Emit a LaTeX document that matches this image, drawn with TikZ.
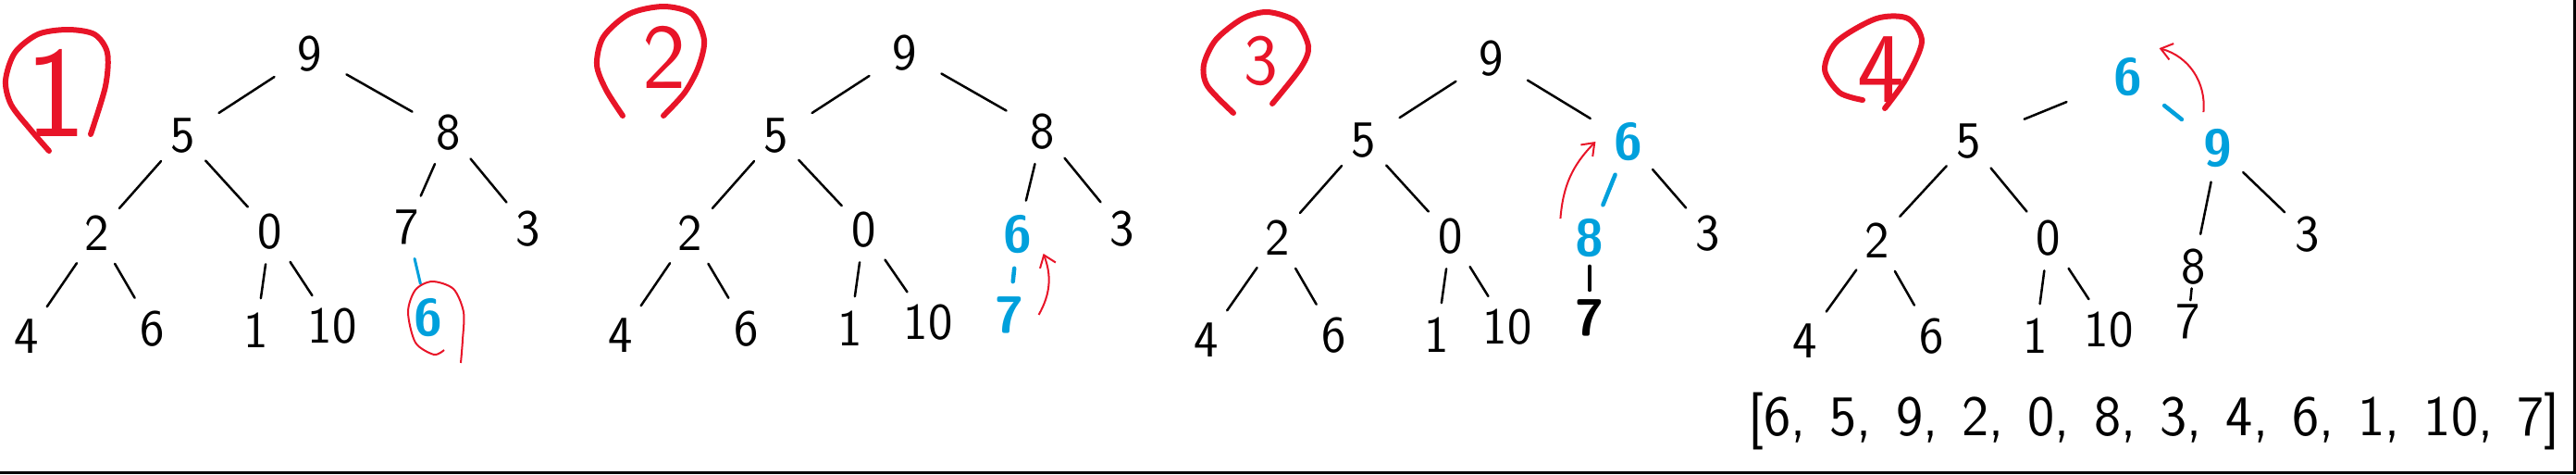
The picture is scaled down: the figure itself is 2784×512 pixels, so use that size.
\documentclass[tikz,border=0pt]{standalone}
\usetikzlibrary{arrows.meta}
\definecolor{heapblue}{RGB}{0,160,220}
\definecolor{markred}{RGB}{232,20,40}
\begin{document}
\begin{tikzpicture}[x=1pt,y=-1pt]
		\tikzstyle{every node}+=[inner sep=0pt]
		\tikzstyle{digit}=[font=\sffamily\fontsize{56}{60}\selectfont]
		\tikzstyle{hot}=[text=heapblue,font=\sffamily\bfseries\fontsize{56}{60}\selectfont]
		\tikzstyle{branch}=[black,line width=2.5pt,line cap=round,shorten <=16pt,shorten >=16pt]
		\tikzstyle{topbranch}=[branch,shorten <=30pt,shorten >=30pt]
		\tikzstyle{hotbranch}=[branch,heapblue,line width=4.5pt]
		\tikzstyle{swaparrow}=[markred,line width=2pt,-{Straight Barb[length=12pt,width=18pt]}]
		\tikzstyle{ringmark}=[markred,line width=6pt,line cap=round]
		\tikzstyle{stepno}=[text=markred]
		\useasboundingbox (0,0) rectangle (2784,512);
		\draw [black,line width=3pt] (0,510.5) -- (2782.5,510.5) -- (2782.5,0);
		\node[stepno,font=\sffamily\fontsize{140}{150}\selectfont] (s1no) at (60,100) {1};
		\draw [ringmark] plot[smooth] coordinates {(53,163) (33,140) (12,113) (6,87) (16,57) (41,37) (73,32) (102,37) (116,57) (114,93) (98,145)};
		\node[digit] (s1n9) at (335,58) {9};
		\node[digit] (s1n5) at (198,147) {5};
		\node[digit] (s1n8) at (485,143) {8};
		\node[digit] (s1n2) at (105,252) {2};
		\node[digit] (s1n0) at (292,250) {0};
		\node[digit] (s1n7) at (440,245) {7};
		\node[digit] (s1n3) at (571,247) {3};
		\node[digit] (s1n4) at (29,363) {4};
		\node[digit] (s1n6) at (165,355) {6};
		\node[digit] (s1n1) at (277,357) {1};
		\node[digit] (s1n10) at (359,352) {10};
		\node[hot] (s1new) at (463,343) {6};
		\draw [topbranch] (s1n9) -- (s1n5);
		\draw [topbranch] (s1n9) -- (s1n8);
		\draw [branch] (s1n5) -- (s1n2);
		\draw [branch] (s1n5) -- (s1n0);
		\draw [branch] (s1n8) -- (s1n7);
		\draw [branch] (s1n8) -- (s1n3);
		\draw [branch] (s1n2) -- (s1n4);
		\draw [branch] (s1n2) -- (s1n6);
		\draw [branch] (s1n0) -- (s1n1);
		\draw [branch] (s1n0) -- (s1n10);
		\draw [hotbranch,line width=3pt] (s1n7) -- (s1new);
		\draw [markred,line width=2pt] plot[smooth] coordinates {(480,378) (469,383) (449,370) (441,337) (449,313) (467,304) (490,312) (501,337) (500,367) (498,392)};
		\node[stepno,font=\sffamily\fontsize{100}{110}\selectfont] (s2no) at (718,62) {2};
		\draw [ringmark] plot[smooth] coordinates {(673,125) (655,97) (645,70) (652,40) (680,15) (717,7) (748,15) (761,43) (755,72) (740,100) (717,125)};
		\node[digit] (s2n9) at (978,57) {9};
		\node[digit] (s2n5) at (839,147) {5};
		\node[digit] (s2n8) at (1127,142) {8};
		\node[digit] (s2n2) at (746,252) {2};
		\node[digit] (s2n0) at (934,248) {0};
		\node[hot] (s2n6) at (1100,253) {6};
		\node[digit] (s2n3) at (1213,247) {3};
		\node[digit] (s2n4) at (671,362) {4};
		\node[digit] (s2n6l) at (807,355) {6};
		\node[digit] (s2n1) at (919,355) {1};
		\node[digit] (s2n10) at (1003,348) {10};
		\node[hot] (s2n7) at (1091,340) {7};
		\draw [topbranch] (s2n9) -- (s2n5);
		\draw [topbranch] (s2n9) -- (s2n8);
		\draw [branch] (s2n5) -- (s2n2);
		\draw [branch] (s2n5) -- (s2n0);
		\draw [branch] (s2n8) -- (s2n6);
		\draw [branch] (s2n8) -- (s2n3);
		\draw [branch] (s2n2) -- (s2n4);
		\draw [branch] (s2n2) -- (s2n6l);
		\draw [branch] (s2n0) -- (s2n1);
		\draw [branch] (s2n0) -- (s2n10);
		\draw [hotbranch] (s2n6) -- (s2n7);
		\draw [swaparrow] ([xshift=16pt]s2n7.east) to[bend right=25] ([xshift=12pt]s2n6.south east);
		\node[stepno,font=\sffamily\fontsize{78}{84}\selectfont] (s3no) at (1363,66) {3};
		\draw [ringmark] plot[smooth] coordinates {(1333,122) (1305,93) (1301,70) (1314,43) (1343,20) (1370,13) (1400,23) (1414,50) (1406,73) (1375,112)};
		\node[digit] (s3n9) at (1612,63) {9};
		\node[digit] (s3n5) at (1474,152) {5};
		\node[hot] (s3n6) at (1760,153) {6};
		\node[digit] (s3n2) at (1381,257) {2};
		\node[digit] (s3n0) at (1568,255) {0};
		\node[hot] (s3n8) at (1718,257) {8};
		\node[digit] (s3n3) at (1846,252) {3};
		\node[digit] (s3n4) at (1304,367) {4};
		\node[digit] (s3n6l) at (1442,362) {6};
		\node[digit] (s3n1) at (1553,362) {1};
		\node[digit] (s3n10) at (1629,353) {10};
		\node[digit,font=\sffamily\bfseries\fontsize{56}{60}\selectfont] (s3n7) at (1718,343) {7};
		\draw [topbranch] (s3n9) -- (s3n5);
		\draw [topbranch] (s3n9) -- (s3n6);
		\draw [branch] (s3n5) -- (s3n2);
		\draw [branch] (s3n5) -- (s3n0);
		\draw [hotbranch] (s3n6) -- (s3n8);
		\draw [branch] (s3n6) -- (s3n3);
		\draw [branch] (s3n2) -- (s3n4);
		\draw [branch] (s3n2) -- (s3n6l);
		\draw [branch] (s3n0) -- (s3n1);
		\draw [branch] (s3n0) -- (s3n10);
		\draw [branch,line width=4.5pt,shorten <=10pt,shorten >=10pt] (s3n8) -- (s3n7);
		\draw [swaparrow] ([xshift=-16pt]s3n8.north west) to[bend left=20] ([xshift=-20pt]s3n6.west);
		\node[stepno,font=\sffamily\fontsize{108}{116}\selectfont] (s4no) at (2033,75) {4};
		\draw [ringmark] plot[smooth] coordinates {(2037,117) (2060,85) (2077,45) (2062,20) (2028,20) (1985,45) (1972,75) (1988,100) (2013,108)};
		\node[hot] (s4n6) at (2300,83) {6};
		\node[hot] (s4n9) at (2397,160) {9};
		\node[digit] (s4n5) at (2128,153) {5};
		\node[digit] (s4n2) at (2029,260) {2};
		\node[digit] (s4n0) at (2214,257) {0};
		\node[digit] (s4n8) at (2371,288) {8};
		\node[digit] (s4n3) at (2494,253) {3};
		\node[digit] (s4n4) at (1951,368) {4};
		\node[digit] (s4n6l) at (2088,363) {6};
		\node[digit] (s4n1) at (2200,363) {1};
		\node[digit] (s4n10) at (2279,356) {10};
		\node[digit] (s4n7) at (2365,347) {7};
		\draw [topbranch,shorten <=55pt,shorten >=50pt] (s4n6) -- (s4n5);
		\draw [hotbranch,shorten <=30pt,shorten >=30pt] (s4n6) -- (s4n9);
		\draw [branch] (s4n5) -- (s4n2);
		\draw [branch] (s4n5) -- (s4n0);
		\draw [branch] (s4n9) -- (s4n8);
		\draw [branch] (s4n9) -- (s4n3);
		\draw [branch] (s4n2) -- (s4n4);
		\draw [branch] (s4n2) -- (s4n6l);
		\draw [branch] (s4n0) -- (s4n1);
		\draw [branch] (s4n0) -- (s4n10);
		\draw [branch,shorten <=4pt,shorten >=4pt] (s4n8) -- (s4n7);
		\draw [swaparrow] ([yshift=18pt]s4n9.north west) to[bend right=40] ([xshift=18pt,yshift=10pt]s4n6.north east);
		\node[font=\sffamily\fontsize{62}{68}\selectfont] (heaparr) at (2328,455) {\spaceskip=0.42em\relax [6, 5, 9, 2, 0, 8, 3, 4, 6, 1, 10, 7]};
	\end{tikzpicture}
\end{document}
